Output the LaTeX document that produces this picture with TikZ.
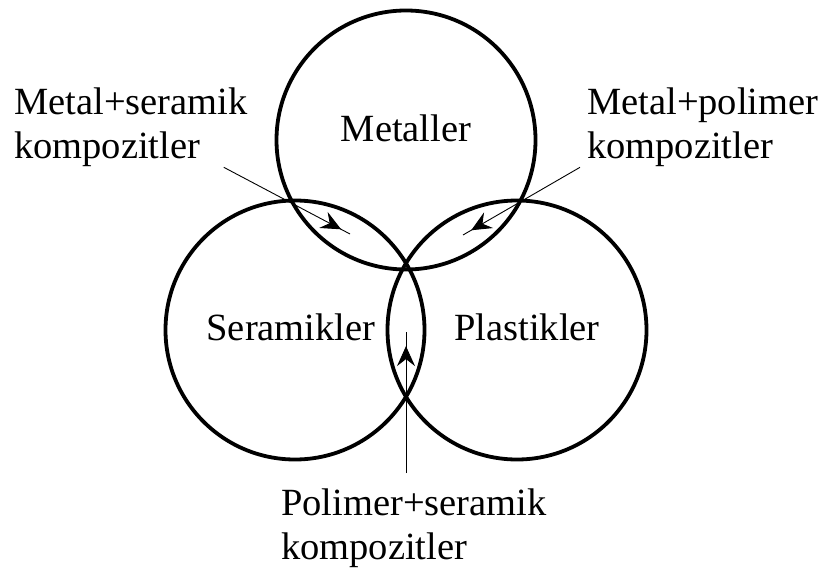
\documentclass[tikz,border=0pt]{standalone}
\usepackage{fontspec}
\setmainfont{Liberation Serif}
\usetikzlibrary{arrows.meta, decorations.markings}
\tikzset{
    ring/.style={
        circle, draw=black, line width=3.8pt,
        minimum size=259pt, inner sep=0pt,
    },
    kind/.style={
        inner sep=0pt, font=\fontsize{38.5}{44}\selectfont,
    },
    note/.style={
        inner sep=0pt, align=left, font=\fontsize{38.5}{44}\selectfont,
    },
    pointer/.style={
        line width=0.9pt, draw=black, postaction={decorate},
        decoration={markings, mark=at position #1 with
            {\arrow{Stealth[length=20pt, width=18pt, inset=7pt]}}},
    },
    pointer/.default=0.93,
}

\begin{document}
\begin{tikzpicture}[x=1pt, y=-1pt]
    \useasboundingbox (0,0) rectangle (832,572);

    % the three material families
    \node[ring] (metal) at (406,140) {};
    \node[ring] (ceramic) at (295,330) {};
    \node[ring] (plastic) at (517,330) {};

    \node[kind] (metalTxt) at (406,128) {Metaller};
    \node[kind] (ceramicTxt) at (291,327) {Seramikler};
    \node[kind] (plasticTxt) at (527,327) {Plastikler};

    % composite labels
    \node[note, anchor=north west] (ms) at (14,88)
        {Metal+seramik\\kompozitler};
    \node[note, anchor=north west] (mp) at (587,88)
        {Metal+polimer\\kompozitler};
    \node[note, anchor=north west] (ps) at (281,489)
        {Polimer+seramik\\kompozitler};

    \coordinate (msTip) at (350,234);
    \coordinate (mpTip) at (463,235);
    \coordinate (psTip) at (406,332);

    \draw[pointer] ([xshift=-24pt]ms.south east) -- (msTip);
    \draw[pointer] ([xshift=-7pt]mp.south west) -- (mpTip);
    \draw[pointer=0.9] ([yshift=16pt]ps.north west -| psTip) -- (psTip);
\end{tikzpicture}
\end{document}
